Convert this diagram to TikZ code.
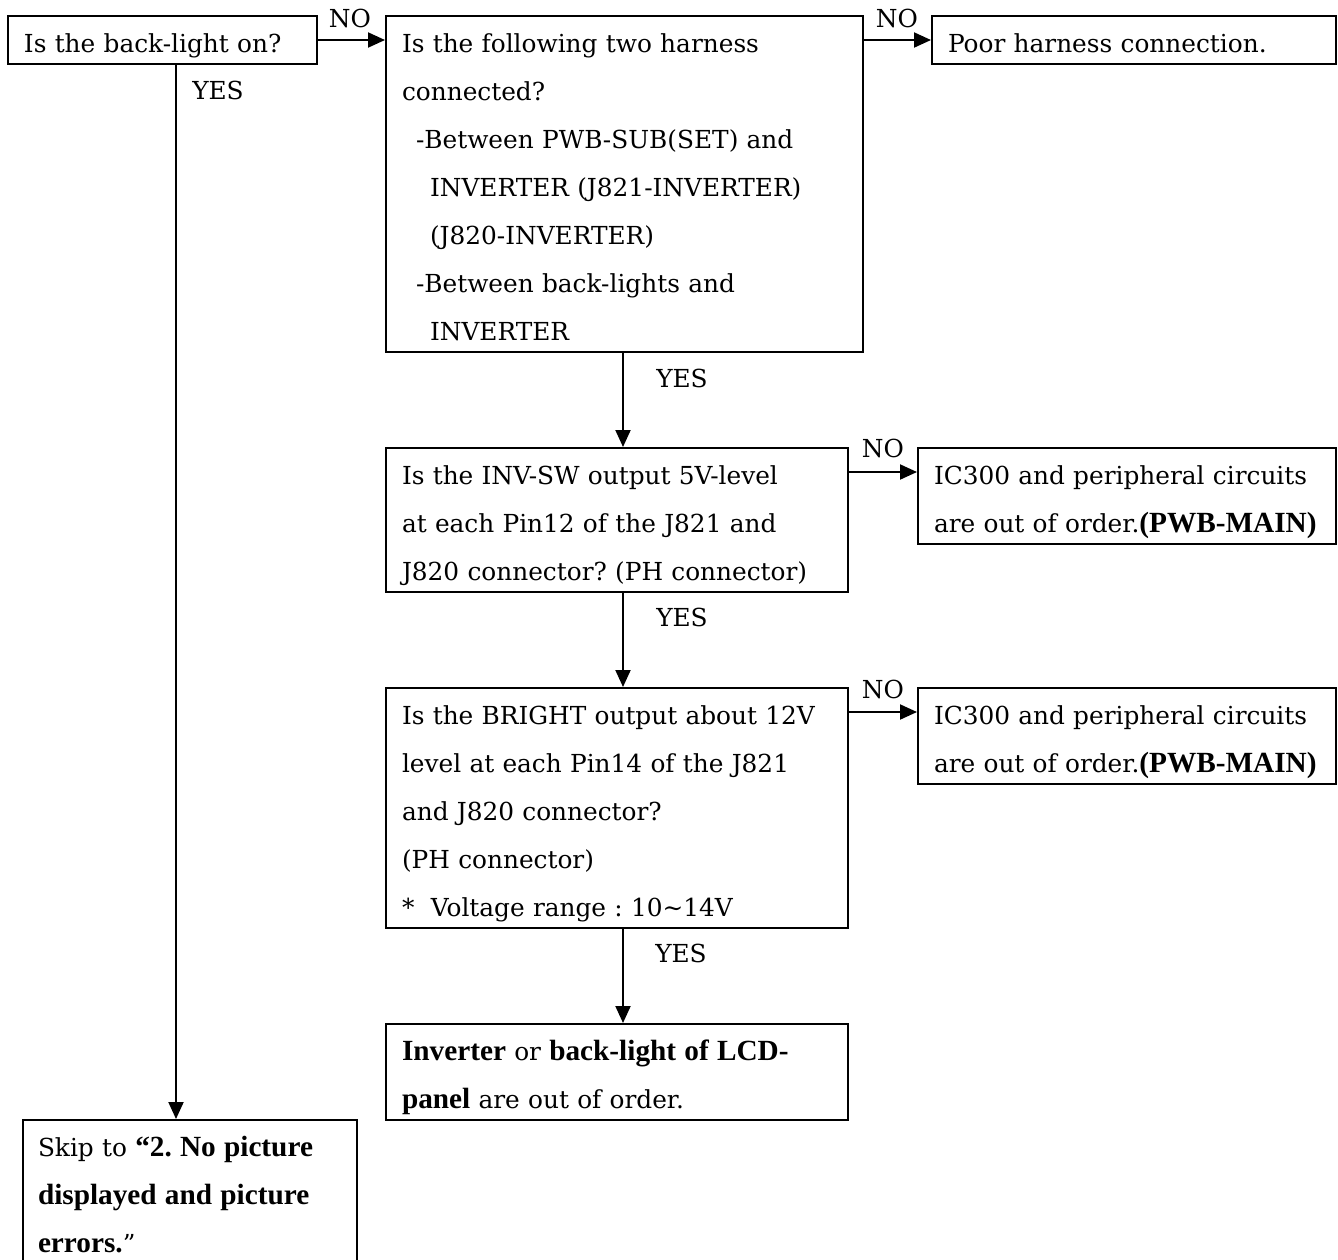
\documentclass[tikz,border=0pt]{standalone}
\usepackage{fontspec}
\setmainfont{DejaVu Serif}
\newfontfamily\lsfam{Liberation Serif}[Scale=1.18]
\newcommand\bld[1]{{\lsfam\bfseries #1}}
\newcommand\sr{\rule[-6pt]{0pt}{24pt}}
\newcommand\bxl[1]{\mbox{\sr #1}}
\usetikzlibrary{arrows.meta}
\frenchspacing
\begin{document}
\begin{tikzpicture}[x=0.5pt,y=-0.5pt,
  every node/.style={font=\fontsize{12.4pt}{24pt}\selectfont\frenchspacing},
  box/.style={draw,line width=1pt,anchor=north west,inner xsep=8pt,inner ysep=0pt,align=left},
  lab/.style={inner sep=0pt},
  arr/.style={line width=1pt,-{Triangle[length=8.5pt,width=7.5pt]}}]
\useasboundingbox (0,0) rectangle (1338,1259);
\fill[white] (0,0) rectangle (1338,1259);
\clip (0,0) rectangle (1338,1259);

\node[box,text width=138.5pt,minimum height=24pt] (A) at (7,15)
  {\bxl{Is the back-light on?}};
\node[box,text width=222.5pt,minimum height=168pt] (B) at (385,15)
  {\bxl{Is the following two harness}\\
   \bxl{connected?}\\
   \bxl{\hspace*{7pt}-Between PWB-SUB(SET) and}\\
   \bxl{\hspace*{14pt}INVERTER (J821-INVERTER)}\\
   \bxl{\hspace*{14pt}(J820-INVERTER)}\\
   \bxl{\hspace*{7pt}-Between back-lights and}\\
   \bxl{\hspace*{14pt}INVERTER}};
\node[box,text width=186pt,minimum height=24pt] (C) at (931,15)
  {\bxl{Poor harness connection.}};
\node[box,text width=215pt,minimum height=72pt] (D) at (385,447)
  {\bxl{Is the INV-SW output 5V-level}\\
   \bxl{at each Pin12 of the J821 and}\\
   \bxl{J820 connector? (PH connector)}};
\node[box,text width=193pt,minimum height=48pt] (E) at (917,447)
  {\bxl{IC300 and peripheral circuits}\\
   \bxl{are out of order.\bld{(PWB-MAIN)}}};
\node[box,text width=215pt,minimum height=120pt] (F) at (385,687)
  {\bxl{Is the BRIGHT output about 12V}\\
   \bxl{level at each Pin14 of the J821}\\
   \bxl{and J820 connector?}\\
   \bxl{(PH connector)}\\
   \bxl{*\ \ Voltage range : 10\textasciitilde 14V}};
\node[box,text width=193pt,minimum height=48pt] (G) at (917,687)
  {\bxl{IC300 and peripheral circuits}\\
   \bxl{are out of order.\bld{(PWB-MAIN)}}};
\node[box,text width=215pt,minimum height=48pt] (H) at (385,1023)
  {\bxl{\bld{Inverter} or \bld{back-light of LCD-}}\\
   \bxl{\bld{panel} are out of order.}};
\node[box,text width=152pt,minimum height=72pt,inner xsep=7.5pt] (S) at (22,1119)
  {\bxl{Skip to \bld{“2. No picture}}\\
   \bxl{\bld{displayed and picture}}\\
   \bxl{\bld{errors.}”}};

\coordinate (xa) at (176,0);
\coordinate (xb) at (623,0);
\coordinate (yd) at (0,472);
\coordinate (yf) at (0,712);

\draw[arr] (A.east) -- (A.east -| B.west);
\draw[arr] (B.east |- C.west) -- (C.west);
\draw[arr] (A.south -| xa) -- (S.north -| xa);
\draw[arr] (B.south -| xb) -- (D.north -| xb);
\draw[arr] (D.east |- yd) -- (E.west |- yd);
\draw[arr] (D.south -| xb) -- (F.north -| xb);
\draw[arr] (F.east |- yf) -- (G.west |- yf);
\draw[arr] (F.south -| xb) -- (H.north -| xb);

\node[lab] (n1) at (350,18) {NO};
\node[lab] (n2) at (897,18) {NO};
\node[lab] (n3) at (883,448) {NO};
\node[lab] (n4) at (883,689) {NO};
\node[lab] (y1) at (218,90) {YES};
\node[lab] (y2) at (682,378) {YES};
\node[lab] (y3) at (682,617) {YES};
\node[lab] (y4) at (681,953) {YES};
\end{tikzpicture}
\end{document}
